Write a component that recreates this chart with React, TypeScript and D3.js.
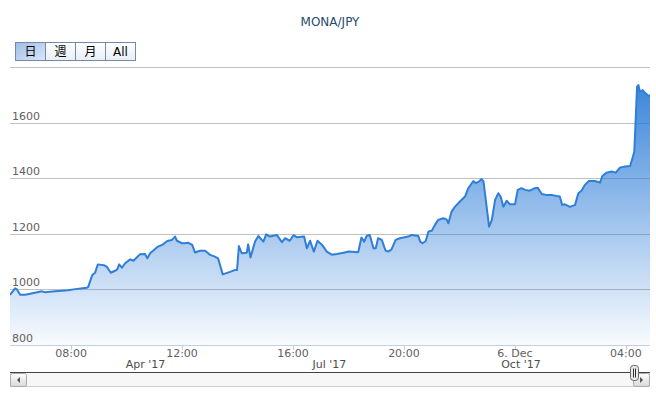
import { useEffect, useRef } from "react";
import * as d3 from "d3";

// MONA/JPY price (local time)
const dec5Times = [
  "05:48", "05:59", "06:03", "06:10", "06:21", "06:42", "06:57", "07:04", "07:25", "07:54",
  "08:09", "08:34", "08:37", "08:46", "08:52", "08:58", "09:11", "09:17", "09:26", "09:35",
  "09:40", "09:44", "09:50", "09:57", "10:08", "10:15", "10:29", "10:40", "10:45", "10:51",
  "11:08", "11:17", "11:28", "11:38", "11:45", "11:49", "12:00", "12:06", "12:13", "12:22",
  "12:28", "12:39", "12:50", "13:01", "13:11", "13:18", "13:28", "13:44", "13:55", "13:59",
  "14:03", "14:09", "14:20", "14:23", "14:28", "14:38", "14:45", "14:56", "15:02", "15:10",
  "15:25", "15:36", "15:43", "15:53", "16:01", "16:08", "16:24", "16:30", "16:37", "16:45",
  "16:53", "17:03", "17:13", "17:24", "17:35", "17:52", "18:00", "18:21", "18:28", "18:34",
  "18:39", "18:46", "18:54", "18:59", "19:04", "19:12", "19:20", "19:26", "19:33", "19:42",
  "19:51", "20:09", "20:17", "20:31", "20:35", "20:40", "20:47", "20:53", "21:00", "21:07",
  "21:14", "21:25", "21:32", "21:36", "21:43", "21:50", "22:01", "22:12", "22:19", "22:30",
  "22:35", "22:42", "22:48", "22:52", "23:04", "23:10", "23:17", "23:24", "23:29", "23:35",
  "23:42", "23:49",
];
const dec6Times = [
  "00:00", "00:06", "00:14", "00:22", "00:32", "00:43", "00:49", "00:58",
  "01:08", "01:19", "01:30", "01:37", "01:42", "01:48", "01:59", "02:10", "02:17", "02:24",
  "02:31", "02:40", "02:53", "03:04", "03:09", "03:18", "03:29", "03:38", "03:47", "03:58",
  "04:09", "04:14", "04:18", "04:21", "04:24", "04:27", "04:30", "04:36", "04:41", "04:47", "04:52",
];
const prices = [
  980, 1004, 1000, 981, 981, 988, 993, 990, 993, 997,
  1001, 1006, 1008, 1052, 1060, 1090, 1087, 1082, 1060, 1067,
  1072, 1090, 1078, 1094, 1108, 1103, 1126, 1127, 1112, 1130,
  1154, 1160, 1174, 1178, 1190, 1175, 1166, 1166, 1168, 1160,
  1133, 1139, 1139, 1124, 1118, 1112, 1054, 1063, 1070, 1070,
  1156, 1130, 1132, 1162, 1115, 1172, 1192, 1172, 1198, 1190,
  1196, 1170, 1184, 1175, 1195, 1188, 1190, 1148, 1175, 1136,
  1175, 1160, 1136, 1125, 1127, 1133, 1136, 1134, 1187, 1172,
  1192, 1196, 1148, 1148, 1184, 1178, 1140, 1136, 1144, 1178,
  1184, 1190, 1196, 1192, 1172, 1166, 1174, 1208, 1211, 1232,
  1250, 1256, 1252, 1238, 1280, 1297, 1316, 1334, 1364, 1390,
  1382, 1388, 1397, 1388, 1226, 1250, 1322, 1346, 1334, 1297,
  1319, 1306, 1306, 1358, 1364, 1358, 1355, 1364, 1366, 1343,
  1340, 1340, 1336, 1334, 1304, 1306, 1297, 1304, 1346, 1355,
  1376, 1390, 1390, 1384, 1408, 1420, 1424, 1420, 1438, 1442,
  1444, 1472, 1495, 1609, 1729, 1735, 1711, 1717, 1707, 1699, 1696,
];
const yTicks = [800, 1000, 1200, 1400, 1600, 1800];
const rangeButtons = ["日", "週", "月", "All"];
const navLabels = ["Apr '17", "Jul '17", "Oct '17"];
const navDates = ["2017-04-01", "2017-07-01", "2017-10-01"];
const navRange = ["2017-02-05", "2017-12-14"];

const parse = d3.timeParse("%Y-%m-%d %H:%M");
const parseDay = d3.timeParse("%Y-%m-%d");
const data = [
  ...dec5Times.map((t) => parse(`2017-12-05 ${t}`)!),
  ...dec6Times.map((t) => parse(`2017-12-06 ${t}`)!),
].map((date, i) => ({ date, value: prices[i] }));

const FONT = "'DejaVu Sans', 'Noto Sans CJK JP', sans-serif";

export default function App() {
  const svgRef = useRef<SVGSVGElement>(null);

  useEffect(() => {
    if (!svgRef.current) return;
    document.body.style.margin = "0";

    const width = 656;
    const height = 393;
    const left = 10;
    const right = 650;
    const top = 67;
    const bottom = 345;

    const svg = d3.select(svgRef.current);
    svg.selectAll("*").remove();
    svg.attr("width", width).attr("height", height).style("font-family", FONT);

    const x = d3
      .scaleTime()
      .domain(d3.extent(data, (d) => d.date) as [Date, Date])
      .range([left, right]);
    const y = d3.scaleLinear().domain([800, 1800]).range([bottom, top]);

    const defs = svg.append("defs");
    const grad = defs
      .append("linearGradient")
      .attr("id", "areaFill")
      .attr("gradientUnits", "userSpaceOnUse")
      .attr("x1", 0)
      .attr("y1", top)
      .attr("x2", 0)
      .attr("y2", bottom);
    grad.append("stop").attr("offset", 0).attr("stop-color", "#2f7ed8").attr("stop-opacity", 1);
    grad.append("stop").attr("offset", 1).attr("stop-color", "#2f7ed8").attr("stop-opacity", 0.03);

    const btnGrad = defs
      .append("linearGradient")
      .attr("id", "btnSel")
      .attr("x1", 0)
      .attr("y1", 0)
      .attr("x2", 1)
      .attr("y2", 1);
    btnGrad.append("stop").attr("offset", 0).attr("stop-color", "#9fbde8");
    btnGrad.append("stop").attr("offset", 1).attr("stop-color", "#dbe7f7");

    const btnGrad2 = defs
      .append("linearGradient")
      .attr("id", "btnOff")
      .attr("x1", 0)
      .attr("y1", 0)
      .attr("x2", 0)
      .attr("y2", 1);
    btnGrad2.append("stop").attr("offset", 0).attr("stop-color", "#ffffff");
    btnGrad2.append("stop").attr("offset", 1).attr("stop-color", "#e8eef6");

    const sbGrad = defs
      .append("linearGradient")
      .attr("id", "sbBtn")
      .attr("x1", 0)
      .attr("y1", 0)
      .attr("x2", 0)
      .attr("y2", 1);
    sbGrad.append("stop").attr("offset", 0).attr("stop-color", "#ffffff");
    sbGrad.append("stop").attr("offset", 1).attr("stop-color", "#d8d8d8");

    defs
      .append("clipPath")
      .attr("id", "plotClip")
      .append("rect")
      .attr("x", left)
      .attr("y", top - 2)
      .attr("width", right - left)
      .attr("height", bottom - top + 2);

    // Title
    svg
      .append("text")
      .attr("x", 330)
      .attr("y", 26)
      .attr("text-anchor", "middle")
      .attr("font-size", 12)
      .attr("fill", "#274b6d")
      .text("MONA/JPY");

    // Range selector buttons
    const btn = svg
      .selectAll("g.btn")
      .data(rangeButtons)
      .enter()
      .append("g")
      .attr("transform", (_, i) => `translate(${15.5 + i * 30},42.5)`);
    btn
      .append("rect")
      .attr("width", 30)
      .attr("height", 18)
      .attr("fill", (_, i) => (i === 0 ? "url(#btnSel)" : "url(#btnOff)"))
      .attr("stroke", "#7389a5");
    btn
      .append("text")
      .attr("x", 15)
      .attr("y", 13.5)
      .attr("text-anchor", "middle")
      .attr("font-size", 12)
      .attr("fill", "#000")
      .text((d) => d);

    // Grid lines
    svg
      .append("g")
      .selectAll("line")
      .data(yTicks)
      .enter()
      .append("line")
      .attr("x1", left)
      .attr("x2", right)
      .attr("y1", (d) => Math.round(y(d)) + 0.5)
      .attr("y2", (d) => Math.round(y(d)) + 0.5)
      .attr("stroke", (d) => (d === 800 ? "#c0d0e0" : "#c0c0c0"));

    // Area + line
    const plot = svg.append("g").attr("clip-path", "url(#plotClip)");
    const area = d3
      .area<{ date: Date; value: number }>()
      .x((d) => x(d.date))
      .y0(bottom)
      .y1((d) => y(d.value));
    const line = d3
      .line<{ date: Date; value: number }>()
      .x((d) => x(d.date))
      .y((d) => y(d.value));
    plot.append("path").datum(data).attr("d", area).attr("fill", "url(#areaFill)");
    plot
      .append("path")
      .datum(data)
      .attr("d", line)
      .attr("fill", "none")
      .attr("stroke", "#2f7ed8")
      .attr("stroke-width", 2)
      .attr("stroke-linejoin", "round");

    // Y labels (last label hidden)
    svg
      .append("g")
      .selectAll("text")
      .data(yTicks.slice(0, -1))
      .enter()
      .append("text")
      .attr("x", 12)
      .attr("y", (d) => y(d) - 3)
      .attr("font-size", 11)
      .attr("fill", "#606060")
      .text((d) => d);

    // X axis ticks
    const xTicks = x.ticks(d3.timeHour.every(4)!);
    const fmtTime = d3.timeFormat("%H:%M");
    const fmtDay = d3.timeFormat("%-d. %b");
    const xg = svg.append("g");
    xg.selectAll("line")
      .data(xTicks)
      .enter()
      .append("line")
      .attr("x1", (d) => Math.round(x(d)) + 0.5)
      .attr("x2", (d) => Math.round(x(d)) + 0.5)
      .attr("y1", bottom)
      .attr("y2", bottom + 5)
      .attr("stroke", "#c0d0e0");
    xg.selectAll("text")
      .data(xTicks)
      .enter()
      .append("text")
      .attr("x", (d) => x(d))
      .attr("y", 357)
      .attr("text-anchor", "middle")
      .attr("font-size", 11)
      .attr("fill", "#606060")
      .text((d) => (d.getHours() === 0 ? fmtDay(d) : fmtTime(d)));

    // Navigator axis labels
    const nav = d3
      .scaleTime()
      .domain(navRange.map((d) => parseDay(d)!) as [Date, Date])
      .range([left, right]);
    svg
      .append("g")
      .selectAll("text")
      .data(navDates)
      .enter()
      .append("text")
      .attr("x", (d) => nav(parseDay(d)!) + 3)
      .attr("y", 368)
      .attr("font-size", 11)
      .attr("fill", "#4d4d4d")
      .text((_, i) => navLabels[i]);

    // Scrollbar
    const sb = svg.append("g");
    sb.append("rect")
      .attr("x", left + 0.5)
      .attr("y", 372.5)
      .attr("width", right - left - 1)
      .attr("height", 14)
      .attr("fill", "#f7f7f7")
      .attr("stroke", "#cccccc");
    sb.append("line")
      .attr("x1", left)
      .attr("x2", right)
      .attr("y1", 372.5)
      .attr("y2", 372.5)
      .attr("stroke", "#444");
    [left + 0.5, right - 16.5].forEach((bx, i) => {
      sb.append("rect")
        .attr("x", bx)
        .attr("y", 373.5)
        .attr("width", 16)
        .attr("height", 13)
        .attr("rx", 2)
        .attr("fill", "url(#sbBtn)")
        .attr("stroke", "#aaaaaa");
      const cx = bx + 8;
      const pts =
        i === 0
          ? `${cx + 1.5},${377} ${cx - 1.5},${380} ${cx + 1.5},${383}`
          : `${cx - 1.5},${377} ${cx + 1.5},${380} ${cx - 1.5},${383}`;
      sb.append("polygon").attr("points", pts).attr("fill", "#555");
    });
    // navigator handle
    const h = sb.append("g").attr("transform", "translate(630.5,365.5)");
    h.append("rect")
      .attr("width", 8)
      .attr("height", 15)
      .attr("rx", 3)
      .attr("fill", "#ebe7e8")
      .attr("stroke", "#666");
    [2.5, 4.5].forEach((lx) => {
      h.append("line")
        .attr("x1", lx + 0.5)
        .attr("x2", lx + 0.5)
        .attr("y1", 3)
        .attr("y2", 12)
        .attr("stroke", "#333");
    });
  }, []);

  return <svg ref={svgRef}></svg>;
}
